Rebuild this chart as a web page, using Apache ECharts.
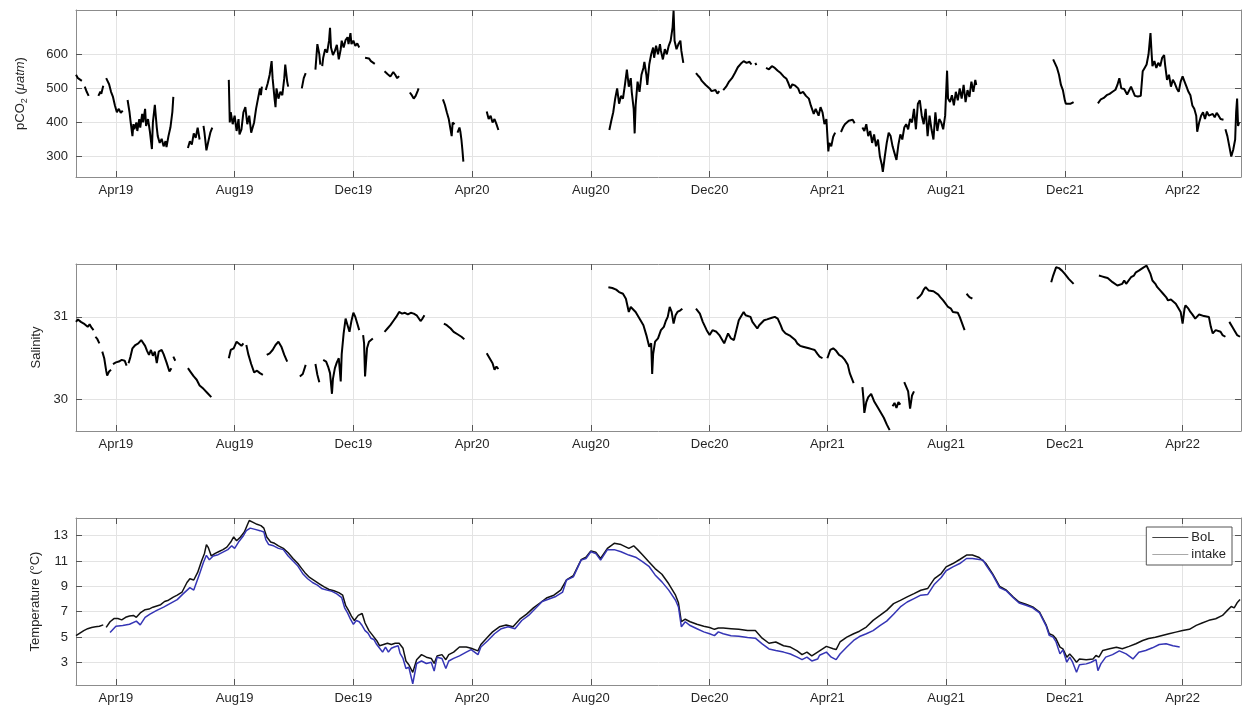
<!DOCTYPE html>
<html>
<head>
<meta charset="utf-8">
<script src="https://cdn.jsdelivr.net/npm/echarts@6/dist/echarts.min.js"></script>
<style>
  html, body { margin: 0; padding: 0; background: #fff; }
  #chart { width: 1242px; height: 713px; }
</style>
</head>
<body>
<div id="chart"></div>
<script>
// ---- time range and tick positions ----
const xStart = '2019-02-19';
const xEnd = '2022-05-31';
const tickDates = ['2019-04-01', '2019-08-01', '2019-12-01', '2020-04-01', '2020-08-01',
  '2020-12-01', '2021-04-01', '2021-08-01', '2021-12-01', '2022-04-01'];
const monthNames = ['Jan', 'Feb', 'Mar', 'Apr', 'May', 'Jun', 'Jul', 'Aug', 'Sep', 'Oct', 'Nov', 'Dec'];

const pco2Ticks = [300, 400, 500, 600];
const salinityTicks = [30, 31];
const tempTicks = [3, 5, 7, 9, 11, 13];

// ---- pCO2 (µatm); null marks a gap in the record ----
const pco2 = [
  ['2019-02-19',540],['2019-02-21',530],['2019-02-23',535],['2019-02-25',522],['2019-02-26',null],
  ['2019-02-28',505],['2019-03-02',490],['2019-03-04',478],['2019-03-06',null],
  ['2019-03-14',478],['2019-03-16',490],['2019-03-17',484],['2019-03-19',508],['2019-03-20',null],
  ['2019-03-22',530],['2019-03-25',512],['2019-03-27',490],['2019-03-29',475],['2019-03-31',450],['2019-04-02',430],['2019-04-04',440],['2019-04-06',428],['2019-04-08',435],['2019-04-10',null],
  ['2019-04-13',466],['2019-04-15',430],['2019-04-16',405],['2019-04-18',360],['2019-04-19',395],['2019-04-20',380],['2019-04-22',400],['2019-04-23',375],['2019-04-25',410],['2019-04-26',385],['2019-04-28',425],['2019-04-29',400],['2019-05-01',440],['2019-05-02',390],['2019-05-04',410],['2019-05-06',372],['2019-05-08',322],['2019-05-09',400],['2019-05-11',452],['2019-05-13',385],['2019-05-14',360],['2019-05-16',340],['2019-05-18',352],['2019-05-20',330],['2019-05-22',345],['2019-05-23',328],['2019-05-25',360],['2019-05-27',385],['2019-05-29',430],['2019-05-30',475],['2019-06-01',null],
  ['2019-06-14',325],['2019-06-16',345],['2019-06-18',335],['2019-06-20',368],['2019-06-22',355],['2019-06-24',385],['2019-06-26',350],['2019-06-28',null],
  ['2019-06-30',390],['2019-07-01',370],['2019-07-03',318],['2019-07-05',345],['2019-07-07',370],['2019-07-09',385],['2019-07-11',null],
  ['2019-07-26',525],['2019-07-27',400],['2019-07-28',430],['2019-07-30',395],['2019-08-01',420],['2019-08-03',375],['2019-08-05',410],['2019-08-06',365],['2019-08-08',380],['2019-08-10',430],['2019-08-12',445],['2019-08-14',395],['2019-08-16',420],['2019-08-18',370],['2019-08-19',380],['2019-08-21',400],['2019-08-23',440],['2019-08-25',470],['2019-08-27',500],['2019-08-28',480],['2019-08-29',505],['2019-08-31',null],
  ['2019-09-02',495],['2019-09-04',515],['2019-09-06',540],['2019-09-08',580],['2019-09-09',530],['2019-09-11',470],['2019-09-12',445],['2019-09-13',500],['2019-09-15',470],['2019-09-17',490],['2019-09-19',480],['2019-09-21',530],['2019-09-22',570],['2019-09-24',520],['2019-09-25',505],['2019-09-27',null],
  ['2019-10-09',500],['2019-10-11',530],['2019-10-13',545],['2019-10-15',null],
  ['2019-10-23',555],['2019-10-25',630],['2019-10-27',600],['2019-10-28',570],['2019-10-29',null],
  ['2019-10-30',565],['2019-10-31',590],['2019-11-02',615],['2019-11-04',605],['2019-11-06',640],['2019-11-07',678],['2019-11-08',620],['2019-11-10',598],['2019-11-12',610],['2019-11-14',628],['2019-11-16',585],['2019-11-18',615],['2019-11-19',640],['2019-11-21',620],['2019-11-23',642],['2019-11-25',650],['2019-11-26',630],['2019-11-28',662],['2019-11-29',630],['2019-12-01',640],['2019-12-03',625],['2019-12-05',632],['2019-12-07',620],['2019-12-09',null],
  ['2019-12-13',590],['2019-12-15',585],['2019-12-17',588],['2019-12-19',580],['2019-12-21',575],['2019-12-23',572],['2019-12-25',null],
  ['2020-01-02',550],['2020-01-05',542],['2020-01-08',535],['2020-01-11',548],['2020-01-13',540],['2020-01-15',530],['2020-01-17',536],['2020-01-19',null],
  ['2020-01-28',488],['2020-01-30',480],['2020-02-01',470],['2020-02-03',478],['2020-02-05',492],['2020-02-06',500],['2020-02-08',null],
  ['2020-03-02',468],['2020-03-04',452],['2020-03-06',430],['2020-03-08',410],['2020-03-10',405],['2020-03-11',360],['2020-03-12',400],['2020-03-14',395],['2020-03-15',null],
  ['2020-03-17',370],['2020-03-19',385],['2020-03-20',372],['2020-03-21',350],['2020-03-22',320],['2020-03-23',285],['2020-03-25',null],
  ['2020-04-16',432],['2020-04-18',410],['2020-04-20',420],['2020-04-22',400],['2020-04-24',410],['2020-04-26',395],['2020-04-28',378],['2020-04-30',null],
  ['2020-08-20',378],['2020-08-22',405],['2020-08-24',430],['2020-08-26',470],['2020-08-28',500],['2020-08-30',455],['2020-09-01',478],['2020-09-03',470],['2020-09-05',510],['2020-09-07',555],['2020-09-09',505],['2020-09-11',530],['2020-09-12',490],['2020-09-14',440],['2020-09-15',368],['2020-09-16',450],['2020-09-18',520],['2020-09-20',490],['2020-09-22',540],['2020-09-24',560],['2020-09-25',578],['2020-09-27',540],['2020-09-28',510],['2020-09-30',570],['2020-10-02',600],['2020-10-04',620],['2020-10-05',590],['2020-10-07',625],['2020-10-09',600],['2020-10-11',630],['2020-10-12',610],['2020-10-14',585],['2020-10-16',615],['2020-10-18',600],['2020-10-20',625],['2020-10-22',640],['2020-10-24',680],['2020-10-25',728],['2020-10-26',640],['2020-10-28',615],['2020-10-30',630],['2020-11-01',640],['2020-11-02',610],['2020-11-04',575],['2020-11-06',null],
  ['2020-11-17',545],['2020-11-19',538],['2020-11-21',532],['2020-11-23',522],['2020-11-25',520],['2020-11-27',510],['2020-11-29',505],['2020-12-01',500],['2020-12-03',492],['2020-12-05',488],['2020-12-07',495],['2020-12-09',485],['2020-12-11',492],['2020-12-13',null],
  ['2020-12-15',495],['2020-12-18',505],['2020-12-21',520],['2020-12-24',530],['2020-12-27',545],['2020-12-30',562],['2021-01-02',572],['2021-01-05',580],['2021-01-08',575],['2021-01-11',578],['2021-01-13',570],['2021-01-15',null],
  ['2021-01-17',575],['2021-01-18',568],['2021-01-19',null],
  ['2021-01-28',560],['2021-01-31',556],['2021-02-03',565],['2021-02-06',560],['2021-02-09',552],['2021-02-12',545],['2021-02-15',535],['2021-02-18',528],['2021-02-20',515],['2021-02-22',500],['2021-02-24',512],['2021-02-27',508],['2021-03-02',500],['2021-03-04',485],['2021-03-07',490],['2021-03-10',478],['2021-03-13',470],['2021-03-15',450],['2021-03-18',425],['2021-03-20',440],['2021-03-23',420],['2021-03-25',445],['2021-03-27',430],['2021-03-29',395],['2021-03-31',410],['2021-04-02',315],['2021-04-03',340],['2021-04-05',330],['2021-04-07',358],['2021-04-09',370],['2021-04-11',null],
  ['2021-04-15',372],['2021-04-17',385],['2021-04-19',395],['2021-04-21',392],['2021-04-23',405],['2021-04-25',400],['2021-04-27',408],['2021-04-29',398],['2021-05-01',null],
  ['2021-05-07',385],['2021-05-09',375],['2021-05-11',395],['2021-05-13',360],['2021-05-15',375],['2021-05-17',340],['2021-05-19',365],['2021-05-21',330],['2021-05-23',350],['2021-05-25',300],['2021-05-27',275],['2021-05-28',255],['2021-05-30',300],['2021-06-01',340],['2021-06-03',370],['2021-06-05',360],['2021-06-07',330],['2021-06-09',310],['2021-06-11',290],['2021-06-13',335],['2021-06-15',365],['2021-06-17',350],['2021-06-19',385],['2021-06-21',395],['2021-06-23',380],['2021-06-25',410],['2021-06-27',400],['2021-06-29',440],['2021-07-01',380],['2021-07-03',455],['2021-07-05',465],['2021-07-07',420],['2021-07-09',395],['2021-07-11',440],['2021-07-13',360],['2021-07-15',420],['2021-07-17',380],['2021-07-19',350],['2021-07-21',430],['2021-07-23',375],['2021-07-25',410],['2021-07-27',400],['2021-07-29',380],['2021-07-31',420],['2021-08-02',552],['2021-08-03',470],['2021-08-05',460],['2021-08-07',480],['2021-08-09',450],['2021-08-11',490],['2021-08-13',465],['2021-08-15',500],['2021-08-17',470],['2021-08-19',510],['2021-08-21',460],['2021-08-23',495],['2021-08-25',475],['2021-08-27',520],['2021-08-29',490],['2021-08-31',525],['2021-09-01',510],['2021-09-03',null],
  ['2021-11-19',585],['2021-11-21',580],['2021-11-23',560],['2021-11-25',540],['2021-11-27',510],['2021-11-29',495],['2021-12-01',465],['2021-12-02',455],['2021-12-04',458],['2021-12-07',455],['2021-12-10',460],['2021-12-12',null],
  ['2022-01-04',456],['2022-01-07',468],['2022-01-10',472],['2022-01-13',480],['2022-01-16',484],['2022-01-19',490],['2022-01-22',496],['2022-01-24',510],['2022-01-26',530],['2022-01-28',500],['2022-01-31',498],['2022-02-03',482],['2022-02-05',480],['2022-02-07',505],['2022-02-09',500],['2022-02-11',478],['2022-02-14',476],['2022-02-17',478],['2022-02-19',550],['2022-02-21',560],['2022-02-23',570],['2022-02-25',600],['2022-02-27',662],['2022-02-28',610],['2022-03-01',565],['2022-03-03',580],['2022-03-05',560],['2022-03-07',575],['2022-03-09',565],['2022-03-11',590],['2022-03-13',598],['2022-03-14',570],['2022-03-16',525],['2022-03-18',540],['2022-03-20',505],['2022-03-22',525],['2022-03-24',515],['2022-03-26',500],['2022-03-28',490],['2022-03-30',520],['2022-04-01',535],['2022-04-03',520],['2022-04-05',505],['2022-04-07',490],['2022-04-09',480],['2022-04-11',450],['2022-04-13',440],['2022-04-15',420],['2022-04-16',373],['2022-04-18',400],['2022-04-20',420],['2022-04-22',430],['2022-04-24',410],['2022-04-26',432],['2022-04-28',420],['2022-04-30',418],['2022-05-02',425],['2022-05-04',415],['2022-05-06',428],['2022-05-08',420],['2022-05-10',410],['2022-05-13',408],['2022-05-14',null],
  ['2022-05-15',380],['2022-05-17',360],['2022-05-19',330],['2022-05-21',300],['2022-05-23',320],['2022-05-25',350],['2022-05-26',430],['2022-05-27',470],['2022-05-28',390],['2022-05-29',400]
];

// ---- salinity ----
const salinity = [
  ['2019-02-19',30.94],['2019-02-21',30.97],['2019-02-24',30.94],['2019-02-27',30.92],['2019-03-01',30.90],['2019-03-03',30.88],['2019-03-05',30.91],['2019-03-07',30.87],['2019-03-09',30.84],['2019-03-10',null],
  ['2019-03-11',30.76],['2019-03-13',30.73],['2019-03-15',30.68],['2019-03-17',null],
  ['2019-03-18',30.58],['2019-03-20',30.50],['2019-03-22',30.35],['2019-03-23',30.29],['2019-03-25',30.34],['2019-03-27',30.36],['2019-03-28',null],
  ['2019-03-29',30.43],['2019-04-01',30.45],['2019-04-04',30.46],['2019-04-07',30.48],['2019-04-10',30.47],['2019-04-12',30.41],['2019-04-13',null],
  ['2019-04-14',30.44],['2019-04-16',30.52],['2019-04-18',30.62],['2019-04-21',30.66],['2019-04-24',30.68],['2019-04-27',30.72],['2019-04-29',30.71],['2019-05-01',30.65],['2019-05-03',30.59],['2019-05-05',30.54],['2019-05-07',30.60],['2019-05-09',30.53],['2019-05-11',30.58],['2019-05-13',30.44],['2019-05-15',30.58],['2019-05-18',30.60],['2019-05-20',30.55],['2019-05-23',30.45],['2019-05-26',30.34],['2019-05-28',30.38],['2019-05-29',null],
  ['2019-05-30',30.52],['2019-06-01',30.47],['2019-06-02',null],
  ['2019-06-14',30.38],['2019-06-17',30.33],['2019-06-20',30.28],['2019-06-23',30.24],['2019-06-26',30.17],['2019-06-30',30.13],['2019-07-04',30.08],['2019-07-08',30.03],['2019-07-10',null],
  ['2019-07-26',30.50],['2019-07-28',30.60],['2019-07-31',30.62],['2019-08-03',30.70],['2019-08-05',30.72],['2019-08-08',30.65],['2019-08-10',30.68],['2019-08-11',null],
  ['2019-08-13',30.66],['2019-08-15',30.55],['2019-08-18',30.43],['2019-08-21',30.33],['2019-08-24',30.35],['2019-08-27',30.32],['2019-08-30',30.30],['2019-09-01',null],
  ['2019-09-03',30.54],['2019-09-06',30.56],['2019-09-09',30.60],['2019-09-12',30.66],['2019-09-15',30.70],['2019-09-18',30.64],['2019-09-21',30.54],['2019-09-24',30.46],['2019-09-26',null],
  ['2019-10-07',30.28],['2019-10-10',30.31],['2019-10-13',30.42],['2019-10-15',null],
  ['2019-10-23',30.43],['2019-10-25',30.30],['2019-10-27',30.21],['2019-10-29',null],
  ['2019-10-31',30.48],['2019-11-03',30.46],['2019-11-05',30.40],['2019-11-07',30.32],['2019-11-09',30.07],['2019-11-10',30.25],['2019-11-12',30.38],['2019-11-14',30.45],['2019-11-16',30.50],['2019-11-18',30.22],['2019-11-19',30.55],['2019-11-21',30.80],['2019-11-23',30.98],['2019-11-25',30.90],['2019-11-27',30.82],['2019-11-29',30.95],['2019-12-01',31.05],['2019-12-03',31.00],['2019-12-05',30.92],['2019-12-07',30.84],['2019-12-09',null],
  ['2019-12-11',30.78],['2019-12-12',30.68],['2019-12-13',30.28],['2019-12-15',30.62],['2019-12-17',30.70],['2019-12-19',30.72],['2019-12-21',30.74],['2019-12-23',null],
  ['2020-01-02',30.82],['2020-01-05',30.86],['2020-01-08',30.90],['2020-01-11',30.95],['2020-01-14',31.00],['2020-01-17',31.06],['2020-01-20',31.04],['2020-01-23',31.05],['2020-01-26',31.03],['2020-01-29',31.05],['2020-02-01',31.04],['2020-02-04',31.02],['2020-02-06',31.00],['2020-02-08',30.95],['2020-02-10',30.98],['2020-02-12',31.02],['2020-02-14',null],
  ['2020-03-03',30.92],['2020-03-06',30.90],['2020-03-10',30.86],['2020-03-13',30.82],['2020-03-17',30.79],['2020-03-21',30.76],['2020-03-24',30.73],['2020-03-26',null],
  ['2020-04-16',30.56],['2020-04-19',30.50],['2020-04-22',30.44],['2020-04-24',30.36],['2020-04-26',30.40],['2020-04-28',30.37],['2020-04-30',null],
  ['2020-08-19',31.36],['2020-08-23',31.35],['2020-08-27',31.33],['2020-08-30',31.30],['2020-09-03',31.28],['2020-09-06',31.22],['2020-09-09',31.06],['2020-09-11',31.12],['2020-09-13',31.10],['2020-09-16',31.06],['2020-09-18',31.04],['2020-09-21',30.96],['2020-09-24',30.90],['2020-09-27',30.78],['2020-09-30',30.64],['2020-10-02',30.68],['2020-10-03',30.31],['2020-10-04',30.55],['2020-10-06',30.70],['2020-10-09',30.74],['2020-10-12',30.84],['2020-10-15',30.88],['2020-10-17',30.95],['2020-10-19',31.00],['2020-10-21',31.12],['2020-10-23',31.06],['2020-10-25',30.92],['2020-10-27',31.02],['2020-10-29',31.06],['2020-11-01',31.08],['2020-11-03',31.10],['2020-11-05',null],
  ['2020-11-17',31.10],['2020-11-21',31.04],['2020-11-24',30.94],['2020-11-28',30.84],['2020-12-01',30.78],['2020-12-04',30.84],['2020-12-06',30.82],['2020-12-08',30.82],['2020-12-11',30.78],['2020-12-14',30.72],['2020-12-16',30.68],['2020-12-18',30.74],['2020-12-20',30.80],['2020-12-23',30.74],['2020-12-26',30.72],['2020-12-28',30.70],['2020-12-31',30.96],['2021-01-03',31.02],['2021-01-05',31.06],['2021-01-07',31.02],['2021-01-09',31.02],['2021-01-12',31.00],['2021-01-14',30.94],['2021-01-16',30.94],['2021-01-19',30.86],['2021-01-21',30.90],['2021-01-23',30.92],['2021-01-26',30.96],['2021-01-29',30.97],['2021-01-31',30.98],['2021-02-03',30.99],['2021-02-06',31.00],['2021-02-09',30.98],['2021-02-12',30.90],['2021-02-14',30.84],['2021-02-17',30.80],['2021-02-19',30.78],['2021-02-22',30.77],['2021-02-24',30.76],['2021-02-27',30.72],['2021-03-01',30.68],['2021-03-04',30.65],['2021-03-07',30.64],['2021-03-10',30.63],['2021-03-13',30.62],['2021-03-16',30.61],['2021-03-19',30.60],['2021-03-22',30.55],['2021-03-24',30.52],['2021-03-27',30.50],['2021-03-29',null],
  ['2021-04-01',30.50],['2021-04-04',30.60],['2021-04-07',30.62],['2021-04-10',30.59],['2021-04-13',30.54],['2021-04-16',30.52],['2021-04-19',30.48],['2021-04-22',30.42],['2021-04-24',30.32],['2021-04-26',30.26],['2021-04-28',30.20],['2021-04-30',null],
  ['2021-05-07',30.15],['2021-05-08',30.02],['2021-05-09',29.84],['2021-05-11',29.97],['2021-05-13',30.03],['2021-05-16',30.07],['2021-05-19',29.98],['2021-05-23',29.90],['2021-05-26',29.84],['2021-05-29',29.78],['2021-06-01',29.70],['2021-06-04',29.63],['2021-06-06',null],
  ['2021-06-07',29.92],['2021-06-09',29.96],['2021-06-11',29.90],['2021-06-13',29.97],['2021-06-15',29.94],['2021-06-17',null],
  ['2021-06-19',30.21],['2021-06-21',30.22],['2021-06-23',30.10],['2021-06-25',29.89],['2021-06-27',30.05],['2021-06-29',30.10],['2021-07-01',null],
  ['2021-07-02',31.22],['2021-07-05',31.25],['2021-07-07',31.28],['2021-07-09',31.33],['2021-07-11',31.36],['2021-07-14',31.32],['2021-07-16',31.32],['2021-07-19',31.31],['2021-07-21',31.30],['2021-07-24',31.27],['2021-07-26',31.24],['2021-07-29',31.20],['2021-07-31',31.18],['2021-08-03',31.12],['2021-08-06',31.10],['2021-08-08',31.06],['2021-08-10',31.06],['2021-08-13',31.05],['2021-08-15',31.00],['2021-08-17',30.98],['2021-08-20',30.84],['2021-08-21',null],
  ['2021-08-22',31.28],['2021-08-25',31.24],['2021-08-28',31.22],['2021-08-30',null],
  ['2021-11-17',31.42],['2021-11-19',31.50],['2021-11-22',31.60],['2021-11-25',31.59],['2021-11-28',31.56],['2021-12-01',31.52],['2021-12-05',31.46],['2021-12-10',31.40],['2021-12-12',null],
  ['2022-01-05',31.50],['2022-01-08',31.49],['2022-01-11',31.48],['2022-01-14',31.47],['2022-01-16',31.46],['2022-01-19',31.42],['2022-01-21',31.40],['2022-01-24',31.38],['2022-01-26',31.36],['2022-01-29',31.40],['2022-01-31',31.44],['2022-02-02',31.40],['2022-02-04',31.40],['2022-02-07',31.48],['2022-02-10',31.50],['2022-02-12',31.54],['2022-02-15',31.56],['2022-02-17',31.58],['2022-02-20',31.60],['2022-02-23',31.62],['2022-02-25',31.60],['2022-02-27',31.52],['2022-03-01',31.44],['2022-03-04',31.40],['2022-03-06',31.36],['2022-03-09',31.32],['2022-03-12',31.28],['2022-03-15',31.24],['2022-03-17',31.20],['2022-03-20',31.21],['2022-03-22',31.20],['2022-03-25',31.16],['2022-03-27',31.14],['2022-03-30',31.06],['2022-04-01',30.92],['2022-04-03',31.10],['2022-04-04',31.14],['2022-04-07',31.10],['2022-04-09',31.06],['2022-04-11',31.03],['2022-04-14',30.98],['2022-04-16',30.98],['2022-04-18',31.03],['2022-04-20',31.04],['2022-04-23',31.01],['2022-04-25',31.02],['2022-04-28',31.00],['2022-04-30',30.88],['2022-05-02',30.80],['2022-05-05',30.84],['2022-05-07',30.86],['2022-05-10',30.82],['2022-05-12',30.78],['2022-05-15',30.76],['2022-05-17',null],
  ['2022-05-19',30.94],['2022-05-22',30.88],['2022-05-25',30.82],['2022-05-27',30.78],['2022-05-30',30.76]
];

// ---- temperature (°C), BoL sensor ----
const tempBoL = [
  ['2019-02-19',5.1],['2019-02-23',5.3],['2019-02-27',5.5],['2019-03-03',5.65],['2019-03-07',5.75],['2019-03-11',5.8],['2019-03-15',5.85],['2019-03-19',5.95],['2019-03-20',null],
  ['2019-03-22',5.75],['2019-03-26',6.2],['2019-03-30',6.45],['2019-04-03',6.45],['2019-04-07',6.35],['2019-04-11',6.55],['2019-04-15',6.65],['2019-04-19',6.7],['2019-04-22',6.55],['2019-04-26',6.9],['2019-05-01',7.15],['2019-05-05',7.2],['2019-05-09',7.35],['2019-05-13',7.45],['2019-05-17',7.55],['2019-05-21',7.8],['2019-05-25',7.9],['2019-05-30',8.15],['2019-06-03',8.3],['2019-06-08',8.55],['2019-06-13',9.3],['2019-06-16',9.6],['2019-06-20',9.5],['2019-06-24',10.1],['2019-06-28',11.0],['2019-07-01',11.6],['2019-07-03',12.3],['2019-07-05',12.05],['2019-07-08',11.4],['2019-07-12',11.6],['2019-07-16',11.75],['2019-07-20',11.9],['2019-07-24',12.1],['2019-07-28',12.5],['2019-07-31',12.9],['2019-08-03',12.6],['2019-08-07',12.9],['2019-08-11',13.3],['2019-08-14',13.85],['2019-08-16',14.2],['2019-08-20',14.05],['2019-08-24',13.9],['2019-08-28',13.8],['2019-08-31',13.6],['2019-09-03',12.9],['2019-09-07',12.5],['2019-09-11',12.4],['2019-09-15',12.2],['2019-09-20',12.0],['2019-09-25',11.65],['2019-09-30',11.2],['2019-10-05',10.8],['2019-10-08',10.5],['2019-10-12',10.1],['2019-10-17',9.7],['2019-10-22',9.45],['2019-10-27',9.2],['2019-11-01',8.95],['2019-11-06',8.75],['2019-11-11',8.65],['2019-11-16',8.5],['2019-11-20',8.3],['2019-11-23',7.5],['2019-11-26',7.1],['2019-11-29',6.65],['2019-12-02',6.3],['2019-12-06',6.7],['2019-12-10',6.85],['2019-12-13',6.1],['2019-12-17',5.5],['2019-12-21',5.1],['2019-12-25',4.7],['2019-12-28',4.3],
  ['2020-01-01',4.4],['2020-01-05',4.5],['2020-01-09',4.4],['2020-01-13',4.5],['2020-01-17',4.5],['2020-01-21',4.1],['2020-01-24',3.1],['2020-01-27',2.8],['2020-01-31',2.2],['2020-02-04',3.2],['2020-02-09',3.6],['2020-02-14',3.4],['2020-02-19',3.3],['2020-02-22',2.9],['2020-02-25',3.5],['2020-03-01',3.6],['2020-03-05',3.2],['2020-03-08',3.6],['2020-03-13',3.8],['2020-03-19',4.2],['2020-03-26',4.2],['2020-03-31',4.1],['2020-04-07',3.9],['2020-04-10',4.4],['2020-04-17',5.0],['2020-04-22',5.4],['2020-04-29',5.8],['2020-05-06',5.95],['2020-05-13',5.8],['2020-05-20',6.4],['2020-05-27',6.8],['2020-06-03',7.3],['2020-06-10',7.7],['2020-06-17',8.1],['2020-06-24',8.3],['2020-07-01',8.7],['2020-07-07',9.5],['2020-07-14',9.85],['2020-07-22',11.1],['2020-07-27',11.3],['2020-08-01',11.8],['2020-08-06',11.7],['2020-08-11',11.2],['2020-08-18',12.0],['2020-08-25',12.4],['2020-09-01',12.3],['2020-09-09',12.0],['2020-09-14',12.2],['2020-09-18',11.9],['2020-09-23',11.5],['2020-09-30',10.9],['2020-10-06',10.4],['2020-10-13',9.95],['2020-10-20',9.2],['2020-10-27',8.3],['2020-10-30',7.7],['2020-11-02',6.2],['2020-11-06',6.4],['2020-11-11',6.2],['2020-11-18',6.0],['2020-11-25',5.85],['2020-12-01',5.75],['2020-12-06',5.6],['2020-12-10',5.7],['2020-12-15',5.7],['2020-12-23',5.65],['2020-12-31',5.6],
  ['2021-01-09',5.5],['2021-01-17',5.5],['2021-01-24',4.9],['2021-01-31',4.5],['2021-02-07',4.6],['2021-02-15',4.3],['2021-02-22',4.2],['2021-03-01',3.9],['2021-03-06',3.6],['2021-03-11',3.8],['2021-03-16',3.5],['2021-03-22',3.8],['2021-03-24',3.93],['2021-03-31',4.25],['2021-04-07',4.06],['2021-04-10',4.0],['2021-04-14',4.6],['2021-04-21',4.98],['2021-04-28',5.25],['2021-05-04',5.45],['2021-05-11',5.78],['2021-05-18',6.31],['2021-05-25',6.7],['2021-06-01',7.1],['2021-06-08',7.63],['2021-06-15',7.89],['2021-06-22',8.16],['2021-06-29',8.42],['2021-07-06',8.69],['2021-07-13',8.82],['2021-07-20',9.61],['2021-07-27',10.01],['2021-08-01',10.54],['2021-08-08',10.8],['2021-08-15',11.12],['2021-08-22',11.47],['2021-08-28',11.47],['2021-09-04',11.28],['2021-09-11',10.8],['2021-09-18',9.96],['2021-09-25',9.0],['2021-10-02',8.69],['2021-10-09',8.16],['2021-10-15',7.76],['2021-10-22',7.58],['2021-10-29',7.37],['2021-11-05',6.97],['2021-11-12',5.91],['2021-11-15',5.25],['2021-11-19',5.12],['2021-11-22',4.85],['2021-11-26',4.19],['2021-11-29',4.06],['2021-12-03',3.4],['2021-12-06',3.66],['2021-12-09',3.4],['2021-12-13',3.0],['2021-12-16',3.26],['2021-12-23',3.2],['2021-12-30',3.26],
  ['2022-01-02',3.53],['2022-01-05',3.4],['2022-01-09',3.93],['2022-01-16',4.06],['2022-01-23',4.19],['2022-01-29',4.06],['2022-02-05',4.25],['2022-02-12',4.46],['2022-02-19',4.72],['2022-02-25',4.88],['2022-03-04',4.98],['2022-03-11',5.12],['2022-03-18',5.25],['2022-03-25',5.38],['2022-04-01',5.5],['2022-04-08',5.6],['2022-04-15',5.91],['2022-04-21',6.1],['2022-04-28',6.31],['2022-05-05',6.44],['2022-05-12',6.7],['2022-05-17',7.1],['2022-05-21',7.4],['2022-05-24',7.3],['2022-05-27',7.7],['2022-05-30',7.95]
];

// ---- temperature (°C), intake sensor ----
const tempIntake = [
  ['2019-03-26',5.35],['2019-04-01',5.85],['2019-04-08',5.9],['2019-04-15',6.0],['2019-04-22',6.25],['2019-04-26',5.95],['2019-05-01',6.55],['2019-05-06',6.8],['2019-05-13',7.1],['2019-05-20',7.35],['2019-05-27',7.65],['2019-06-03',7.95],['2019-06-09',8.4],['2019-06-16',8.9],['2019-06-20',8.7],['2019-06-26',10.0],['2019-06-30',10.9],['2019-07-03',11.45],['2019-07-06',11.1],['2019-07-10',11.4],['2019-07-15',11.5],['2019-07-20',11.7],['2019-07-25',11.9],['2019-07-29',12.2],['2019-08-01',12.0],['2019-08-05',12.5],['2019-08-10',13.0],['2019-08-13',13.4],['2019-08-17',13.6],['2019-08-22',13.5],['2019-08-27',13.4],['2019-08-31',13.3],['2019-09-02',12.7],['2019-09-05',12.3],['2019-09-10',12.2],['2019-09-15',12.0],['2019-09-20',11.9],['2019-09-25',11.4],['2019-09-30',11.0],['2019-10-05',10.6],['2019-10-10',10.0],['2019-10-15',9.6],['2019-10-20',9.3],['2019-10-25',9.1],['2019-10-30',8.8],['2019-11-04',8.7],['2019-11-09',8.6],['2019-11-14',8.4],['2019-11-19',8.1],['2019-11-22',7.3],['2019-11-25',6.9],['2019-11-28',6.4],['2019-12-01',6.0],['2019-12-04',6.3],['2019-12-07',6.2],['2019-12-10',5.9],['2019-12-13',5.5],['2019-12-16',5.3],['2019-12-19',4.9],['2019-12-22',4.8],['2019-12-25',4.4],['2019-12-28',4.1],['2019-12-31',3.8],
  ['2020-01-03',4.2],['2020-01-06',3.8],['2020-01-09',4.1],['2020-01-12',4.2],['2020-01-16',4.3],['2020-01-18',3.7],['2020-01-21',3.3],['2020-01-24',2.5],['2020-01-27',2.6],['2020-01-31',1.3],['2020-02-04',2.9],['2020-02-09',3.1],['2020-02-14',2.9],['2020-02-19',3.0],['2020-02-22',2.3],['2020-02-25',3.4],['2020-03-01',3.3],['2020-03-05',2.5],['2020-03-08',3.1],['2020-03-13',3.3],['2020-03-19',3.5],['2020-03-26',3.8],['2020-03-31',4.0],['2020-04-07',3.6],['2020-04-10',4.2],['2020-04-17',4.7],['2020-04-24',5.25],['2020-05-01',5.65],['2020-05-08',5.8],['2020-05-15',5.65],['2020-05-22',6.3],['2020-05-29',6.7],['2020-06-05',7.25],['2020-06-12',7.8],['2020-06-19',8.0],['2020-06-26',8.2],['2020-07-03',8.55],['2020-07-07',9.5],['2020-07-14',9.75],['2020-07-22',11.07],['2020-07-27',11.2],['2020-08-01',11.73],['2020-08-06',11.6],['2020-08-11',11.07],['2020-08-18',11.9],['2020-08-25',11.9],['2020-09-01',11.73],['2020-09-09',11.47],['2020-09-16',11.3],['2020-09-23',10.95],['2020-09-30',10.55],['2020-10-06',9.9],['2020-10-13',9.35],['2020-10-20',8.7],['2020-10-27',7.9],['2020-10-30',7.37],['2020-11-02',5.8],['2020-11-06',6.2],['2020-11-11',5.9],['2020-11-18',5.65],['2020-11-25',5.4],['2020-12-01',5.25],['2020-12-06',5.1],['2020-12-10',5.4],['2020-12-15',5.25],['2020-12-23',5.1],['2020-12-31',5.05],
  ['2021-01-09',4.95],['2021-01-17',4.9],['2021-01-24',4.45],['2021-01-31',4.05],['2021-02-07',3.93],['2021-02-15',3.8],['2021-02-22',3.65],['2021-03-01',3.4],['2021-03-06',3.2],['2021-03-11',3.4],['2021-03-16',3.1],['2021-03-22',3.25],['2021-03-24',3.55],['2021-03-31',3.8],['2021-04-05',3.4],['2021-04-10',3.2],['2021-04-14',3.65],['2021-04-21',4.2],['2021-04-28',4.72],['2021-05-04',5.03],['2021-05-11',5.25],['2021-05-18',5.5],['2021-05-25',5.9],['2021-06-01',6.25],['2021-06-08',6.8],['2021-06-15',7.37],['2021-06-22',7.76],['2021-06-29',8.03],['2021-07-06',8.3],['2021-07-13',8.35],['2021-07-20',9.17],['2021-07-27',9.7],['2021-08-01',10.23],['2021-08-08',10.54],['2021-08-15',10.8],['2021-08-22',11.2],['2021-08-28',11.2],['2021-09-04',11.12],['2021-09-08',11.07],['2021-09-11',10.67],['2021-09-18',9.88],['2021-09-25',8.9],['2021-10-02',8.64],['2021-10-09',8.1],['2021-10-15',7.68],['2021-10-22',7.5],['2021-10-29',7.3],['2021-11-05',6.9],['2021-11-12',5.83],['2021-11-15',5.12],['2021-11-19',4.98],['2021-11-22',4.6],['2021-11-26',3.66],['2021-11-29',3.98],['2021-12-03',3.0],['2021-12-06',3.4],['2021-12-09',3.0],['2021-12-13',2.2],['2021-12-16',2.8],['2021-12-23',2.87],['2021-12-28',3.0],
  ['2022-01-02',3.2],['2022-01-04',2.34],['2022-01-07',2.87],['2022-01-12',3.4],['2022-01-19',3.6],['2022-01-26',3.9],['2022-02-02',3.66],['2022-02-09',3.26],['2022-02-15',3.79],['2022-02-22',3.93],['2022-03-01',4.14],['2022-03-08',4.4],['2022-03-15',4.46],['2022-03-22',4.3],['2022-03-29',4.2]
];

// ---- helpers ----
const toTime = d => Date.parse(d + 'T00:00:00Z');
const toPoints = rows => rows.map(([d, v]) => [toTime(d), v == null ? '-' : v]);
const tickTimes = tickDates.map(toTime);
const fmtTick = v => {
  const dt = new Date(v);
  return monthNames[dt.getUTCMonth()] + String(dt.getUTCFullYear()).slice(2);
};

const FONT = 'Liberation Sans, Arial, sans-serif';
const TEXT = '#262626';
const FRAME = '#8c8c8c';
const GRIDLINE = '#e3e3e3';

const gridTops = [10, 264, 518];
const grids = gridTops.map(t => ({ left: 76, right: 1, top: t, height: 167 }));

function bottomX(i) {
  return {
    type: 'value', gridIndex: i, min: toTime(xStart), max: toTime(xEnd),
    axisLine: { show: true, lineStyle: { color: FRAME, width: 1 } },
    axisTick: { show: true, inside: true, length: 6, customValues: tickTimes, lineStyle: { color: '#555' } },
    axisLabel: { customValues: tickTimes, formatter: fmtTick, color: TEXT, fontSize: 13, fontFamily: FONT, margin: 7 },
    splitLine: { show: true, lineStyle: { color: GRIDLINE, width: 1 } }
  };
}
function topX(i) {
  return {
    type: 'value', gridIndex: i, position: 'top', min: toTime(xStart), max: toTime(xEnd),
    axisLine: { show: true, lineStyle: { color: FRAME, width: 1 } },
    axisTick: { show: true, inside: true, length: 6, customValues: tickTimes, lineStyle: { color: '#555' } },
    axisLabel: { show: false }, splitLine: { show: false }
  };
}
function leftY(i, min, max, ticks, name, gap) {
  return {
    type: 'value', gridIndex: i, min, max,
    name, nameLocation: 'middle', nameGap: gap, nameRotate: 90,
    nameTextStyle: { color: TEXT, fontSize: 13, fontFamily: FONT },
    axisLine: { show: true, lineStyle: { color: FRAME, width: 1 } },
    axisTick: { show: true, inside: true, length: 6, customValues: ticks, lineStyle: { color: '#555' } },
    axisLabel: { customValues: ticks, color: TEXT, fontSize: 13, fontFamily: FONT, margin: 8 },
    splitLine: { show: true, lineStyle: { color: GRIDLINE, width: 1 } }
  };
}
function rightY(i, min, max, ticks) {
  return {
    type: 'value', gridIndex: i, position: 'right', min, max,
    axisLine: { show: true, lineStyle: { color: FRAME, width: 1 } },
    axisTick: { show: true, inside: true, length: 6, customValues: ticks, lineStyle: { color: '#555' } },
    axisLabel: { show: false }, splitLine: { show: false }
  };
}

const pco2Axis = leftY(0, 240, 730, pco2Ticks, 'pCO{s|2} ({i|μatm})', 47);
pco2Axis.nameTextStyle.rich = {
  s: { fontSize: 9, fontFamily: FONT, color: TEXT, padding: [8, 0, 0, 0] },
  i: { fontSize: 13, fontFamily: FONT, color: TEXT, fontStyle: 'italic' }
};

const option = {
  animation: false,
  backgroundColor: '#fff',
  grid: grids,
  xAxis: [bottomX(0), bottomX(1), bottomX(2), topX(0), topX(1), topX(2)],
  yAxis: [
    pco2Axis,
    leftY(1, 29.62, 31.64, salinityTicks, 'Salinity', 32),
    leftY(2, 1.2, 14.4, tempTicks, 'Temperature (°C)', 34),
    rightY(0, 240, 730, pco2Ticks),
    rightY(1, 29.62, 31.64, salinityTicks),
    rightY(2, 1.2, 14.4, tempTicks)
  ],
  legend: {
    data: [
      { name: 'BoL', itemStyle: { color: '#444' } },
      { name: 'intake', itemStyle: { color: '#a8a8a8' } }
    ],
    icon: 'rect',
    orient: 'vertical', right: 10, top: 527,
    itemWidth: 36, itemHeight: 1.2, itemGap: 4,
    padding: [4, 6, 4, 6],
    borderColor: '#555', borderWidth: 1, backgroundColor: '#fff',
    textStyle: { color: TEXT, fontSize: 13, fontFamily: FONT, padding: [0, 0, 0, -2] }
  },
  series: [
    { name: 'pCO2', type: 'line', xAxisIndex: 0, yAxisIndex: 0, data: toPoints(pco2),
      symbol: 'none', connectNulls: false, lineStyle: { color: '#000', width: 2 }, itemStyle: { color: '#000' } },
    { name: 'Salinity', type: 'line', xAxisIndex: 1, yAxisIndex: 1, data: toPoints(salinity),
      symbol: 'none', connectNulls: false, lineStyle: { color: '#000', width: 2 }, itemStyle: { color: '#000' } },
    { name: 'BoL', type: 'line', xAxisIndex: 2, yAxisIndex: 2, data: toPoints(tempBoL),
      symbol: 'none', connectNulls: false, lineStyle: { color: '#111', width: 1.5 }, itemStyle: { color: '#111' } },
    { name: 'intake', type: 'line', xAxisIndex: 2, yAxisIndex: 2, data: toPoints(tempIntake),
      symbol: 'none', connectNulls: false, lineStyle: { color: '#3535b5', width: 1.5 }, itemStyle: { color: '#3535b5' } }
  ]
};

const chart = echarts.init(document.getElementById('chart'), null, { renderer: 'canvas' });
chart.setOption(option);
</script>
</body>
</html>
